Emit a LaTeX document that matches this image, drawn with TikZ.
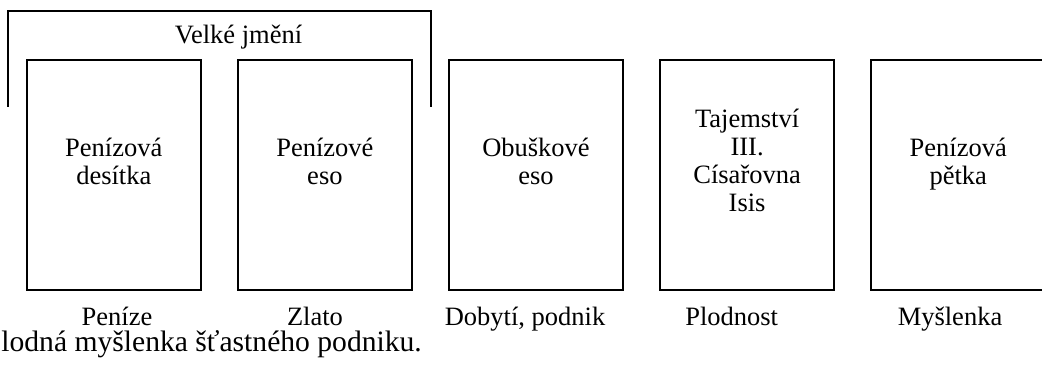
\documentclass[tikz,border=0pt]{standalone}
\usepackage{fontspec}
\setmainfont{Liberation Serif}
\usetikzlibrary{positioning}

\tikzset{
  card/.style={draw, line width=1pt, minimum width=86.75pt, minimum height=115pt, inner sep=0pt},
  cardtext/.style={align=center, inner sep=0pt, font=\fontsize{13.25}{14}\selectfont},
  meaning/.style={anchor=base, inner sep=0pt, font=\fontsize{13.25}{14}\selectfont},
}

\begin{document}
\begin{tikzpicture}[x=0.5pt, y=-0.5pt]
    \useasboundingbox (0,0) rectangle (1042,367);
    % the five cards
    \node[card] (b1) at (113.8,175) {};
    \node[card] (b2) at (324.9,175) {};
    \node[card] (b3) at (536,175) {};
    \node[card] (b4) at (747.1,175) {};
    \node[card] (b5) at (958.2,175) {};
    \node[cardtext] (t1) at (113.8,165) {\strut Penízová\\desítka\strut};
    \node[cardtext] (t2) at (324.9,165) {\strut Penízové\\eso\strut};
    \node[cardtext] (t3) at (536,165) {\strut Obuškové\\eso\strut};
    \node[cardtext] (t4) at (747.1,164) {\strut Tajemství\\III.\\Císařovna\\Isis\strut};
    \node[cardtext] (t5) at (958.2,165) {\strut Penízová\\pětka\strut};
    % bracket over the first two
    \coordinate (bl) at (8,107);
    \coordinate (br) at (430.7,107);
    \draw[line width=1pt] (bl) -- ++(0,-96) -| (br);
    \node[meaning] (vj) at (238.5,43.3) {Velké jmění};
    % meanings
    \node[meaning] (m1) at (117,326) {Peníze};
    \node[meaning] (m2) at (315,326) {Zlato};
    \node[meaning] (m3) at (525,326) {Dobytí, podnik};
    \node[meaning] (m4) at (731.7,326) {Plodnost};
    \node[meaning] (m5) at (950,326) {Myšlenka};
    \node[anchor=base west, inner sep=0pt, font=\fontsize{14.8}{16}\selectfont] (sum) at (1,352) {lodná myšlenka šťastného podniku.};
\end{tikzpicture}
\end{document}
